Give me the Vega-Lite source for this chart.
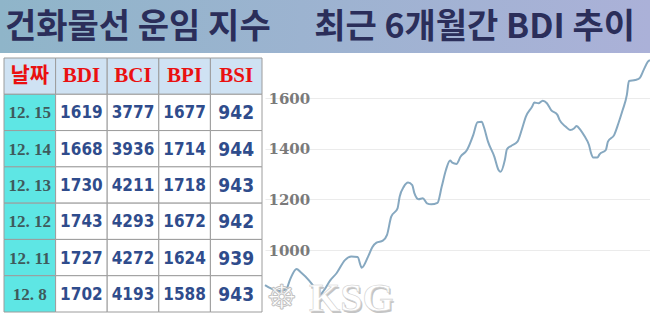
{
  "$schema": "https://vega.github.io/schema/vega-lite/v6.json",
  "padding": 0,
  "background": "white",
  "bounds": "flush",
  "spacing": 2,
  "config": {"view": {"stroke": null}},
  "datasets": {
    "banner": [
      {"part": "left", "label": "건화물선 운임 지수"},
      {"part": "right", "label": "최근 6개월간 BDI 추이"}
    ],
    "header": [
      {"col": "날짜"}, {"col": "BDI"}, {"col": "BCI"}, {"col": "BPI"}, {"col": "BSI"}
    ],
    "values": [
      {"date": "12. 15", "index": "BDI", "value": 1619},
      {"date": "12. 15", "index": "BCI", "value": 3777},
      {"date": "12. 15", "index": "BPI", "value": 1677},
      {"date": "12. 15", "index": "BSI", "value": 942},
      {"date": "12. 14", "index": "BDI", "value": 1668},
      {"date": "12. 14", "index": "BCI", "value": 3936},
      {"date": "12. 14", "index": "BPI", "value": 1714},
      {"date": "12. 14", "index": "BSI", "value": 944},
      {"date": "12. 13", "index": "BDI", "value": 1730},
      {"date": "12. 13", "index": "BCI", "value": 4211},
      {"date": "12. 13", "index": "BPI", "value": 1718},
      {"date": "12. 13", "index": "BSI", "value": 943},
      {"date": "12. 12", "index": "BDI", "value": 1743},
      {"date": "12. 12", "index": "BCI", "value": 4293},
      {"date": "12. 12", "index": "BPI", "value": 1672},
      {"date": "12. 12", "index": "BSI", "value": 942},
      {"date": "12. 11", "index": "BDI", "value": 1727},
      {"date": "12. 11", "index": "BCI", "value": 4272},
      {"date": "12. 11", "index": "BPI", "value": 1624},
      {"date": "12. 11", "index": "BSI", "value": 939},
      {"date": "12. 8", "index": "BDI", "value": 1702},
      {"date": "12. 8", "index": "BCI", "value": 4193},
      {"date": "12. 8", "index": "BPI", "value": 1588},
      {"date": "12. 8", "index": "BSI", "value": 943}
    ],
    "bdi": [
      {"date": "2017-06-12", "bdi": 861},
      {"date": "2017-06-14", "bdi": 851},
      {"date": "2017-06-17", "bdi": 840},
      {"date": "2017-06-19", "bdi": 838},
      {"date": "2017-06-22", "bdi": 844},
      {"date": "2017-06-24", "bdi": 885},
      {"date": "2017-06-27", "bdi": 925},
      {"date": "2017-06-29", "bdi": 912},
      {"date": "2017-07-03", "bdi": 879},
      {"date": "2017-07-06", "bdi": 846},
      {"date": "2017-07-08", "bdi": 822},
      {"date": "2017-07-10", "bdi": 840},
      {"date": "2017-07-13", "bdi": 880},
      {"date": "2017-07-16", "bdi": 908},
      {"date": "2017-07-20", "bdi": 960},
      {"date": "2017-07-23", "bdi": 974},
      {"date": "2017-07-26", "bdi": 972},
      {"date": "2017-07-28", "bdi": 930},
      {"date": "2017-07-31", "bdi": 974},
      {"date": "2017-08-02", "bdi": 1011},
      {"date": "2017-08-04", "bdi": 1029},
      {"date": "2017-08-07", "bdi": 1037},
      {"date": "2017-08-09", "bdi": 1060},
      {"date": "2017-08-11", "bdi": 1132},
      {"date": "2017-08-14", "bdi": 1165},
      {"date": "2017-08-15", "bdi": 1211},
      {"date": "2017-08-17", "bdi": 1251},
      {"date": "2017-08-19", "bdi": 1267},
      {"date": "2017-08-21", "bdi": 1257},
      {"date": "2017-08-22", "bdi": 1225},
      {"date": "2017-08-24", "bdi": 1201},
      {"date": "2017-08-26", "bdi": 1205},
      {"date": "2017-08-28", "bdi": 1185},
      {"date": "2017-08-30", "bdi": 1181},
      {"date": "2017-09-02", "bdi": 1187},
      {"date": "2017-09-04", "bdi": 1251},
      {"date": "2017-09-06", "bdi": 1317},
      {"date": "2017-09-08", "bdi": 1354},
      {"date": "2017-09-09", "bdi": 1346},
      {"date": "2017-09-11", "bdi": 1341},
      {"date": "2017-09-13", "bdi": 1370},
      {"date": "2017-09-16", "bdi": 1396},
      {"date": "2017-09-19", "bdi": 1456},
      {"date": "2017-09-21", "bdi": 1506},
      {"date": "2017-09-23", "bdi": 1508},
      {"date": "2017-09-24", "bdi": 1488},
      {"date": "2017-09-26", "bdi": 1429},
      {"date": "2017-09-29", "bdi": 1370},
      {"date": "2017-10-01", "bdi": 1317},
      {"date": "2017-10-02", "bdi": 1310},
      {"date": "2017-10-04", "bdi": 1356},
      {"date": "2017-10-05", "bdi": 1399},
      {"date": "2017-10-07", "bdi": 1412},
      {"date": "2017-10-10", "bdi": 1429},
      {"date": "2017-10-12", "bdi": 1475},
      {"date": "2017-10-14", "bdi": 1528},
      {"date": "2017-10-17", "bdi": 1568},
      {"date": "2017-10-18", "bdi": 1584},
      {"date": "2017-10-20", "bdi": 1581},
      {"date": "2017-10-22", "bdi": 1591},
      {"date": "2017-10-24", "bdi": 1581},
      {"date": "2017-10-26", "bdi": 1554},
      {"date": "2017-10-29", "bdi": 1535},
      {"date": "2017-10-30", "bdi": 1515},
      {"date": "2017-11-02", "bdi": 1488},
      {"date": "2017-11-04", "bdi": 1475},
      {"date": "2017-11-06", "bdi": 1482},
      {"date": "2017-11-07", "bdi": 1491},
      {"date": "2017-11-09", "bdi": 1475},
      {"date": "2017-11-11", "bdi": 1449},
      {"date": "2017-11-13", "bdi": 1416},
      {"date": "2017-11-14", "bdi": 1383},
      {"date": "2017-11-15", "bdi": 1366},
      {"date": "2017-11-17", "bdi": 1366},
      {"date": "2017-11-18", "bdi": 1379},
      {"date": "2017-11-21", "bdi": 1396},
      {"date": "2017-11-22", "bdi": 1429},
      {"date": "2017-11-25", "bdi": 1456},
      {"date": "2017-11-27", "bdi": 1502},
      {"date": "2017-11-29", "bdi": 1554},
      {"date": "2017-12-01", "bdi": 1614},
      {"date": "2017-12-02", "bdi": 1669},
      {"date": "2017-12-05", "bdi": 1673},
      {"date": "2017-12-07", "bdi": 1680},
      {"date": "2017-12-09", "bdi": 1713},
      {"date": "2017-12-11", "bdi": 1746},
      {"date": "2017-12-12", "bdi": 1752}
    ],
    "watermark": [{"name": "KSG", "logo": "☸"}]
  },
  "vconcat": [
    {
      "width": 650,
      "height": 53,
      "view": {
        "fill": {
          "gradient": "linear", "x1": 0, "y1": 0, "x2": 1, "y2": 0,
          "stops": [{"offset": 0, "color": "#8fb5c9"}, {"offset": 1, "color": "#abb1d8"}]
        },
        "stroke": null
      },
      "data": {"name": "banner"},
      "layer": [
        {
          "transform": [{"filter": "datum.part === 'left'"}],
          "mark": {"type": "text", "align": "left", "baseline": "middle", "dx": 5, "dy": 1, "font": "Noto Sans CJK KR", "fontWeight": "bold", "fontSize": 34, "color": "#2b2e5a"},
          "encoding": {
            "x": {"field": "part", "type": "nominal", "bandPosition": 0, "scale": {"type": "band", "domain": ["left", "right"], "paddingInner": 0, "paddingOuter": 0}, "axis": null},
            "text": {"field": "label"}
          }
        },
        {
          "transform": [{"filter": "datum.part === 'right'"}],
          "mark": {"type": "text", "align": "right", "baseline": "middle", "dx": -15, "dy": 1, "font": "Noto Sans CJK KR", "fontWeight": "bold", "fontSize": 34, "color": "#2b2e5a"},
          "encoding": {
            "x": {"field": "part", "type": "nominal", "bandPosition": 1, "axis": null},
            "text": {"field": "label"}
          }
        }
      ]
    },
    {
      "bounds": "flush",
      "spacing": 3,
      "hconcat": [
        {
          "width": 262,
          "height": 265,
          "layer": [
            {
              "data": {"name": "header"},
              "mark": {"type": "rect", "fill": "#cfe2f3", "stroke": "#9c9c9c", "strokeWidth": 1},
              "encoding": {
                "x": {"field": "col", "type": "nominal", "scale": {"type": "band", "domain": ["날짜", "BDI", "BCI", "BPI", "BSI"], "range": [4, 262], "paddingInner": 0, "paddingOuter": 0}, "axis": null},
                "y": {"datum": "head", "type": "nominal", "scale": {"type": "band", "domain": ["head", "12. 15", "12. 14", "12. 13", "12. 12", "12. 11", "12. 8"], "range": [3, 257], "paddingInner": 0, "paddingOuter": 0}, "axis": null}
              }
            },
            {
              "data": {"name": "values"},
              "transform": [{"filter": "datum.index === 'BDI'"}],
              "mark": {"type": "rect", "fill": "#5ee6e4", "stroke": "#9c9c9c", "strokeWidth": 1},
              "encoding": {
                "x": {"datum": "날짜", "type": "nominal"},
                "y": {"field": "date", "type": "nominal"}
              }
            },
            {
              "data": {"name": "values"},
              "mark": {"type": "rect", "fill": "#ffffff", "stroke": "#9c9c9c", "strokeWidth": 1},
              "encoding": {
                "x": {"field": "index", "type": "nominal"},
                "y": {"field": "date", "type": "nominal"}
              }
            },
            {
              "data": {"name": "header"},
              "mark": {"type": "text", "font": "Liberation Serif, Noto Sans CJK KR", "fontWeight": "bold", "fontSize": 21, "color": "#ea1010", "baseline": "middle"},
              "encoding": {
                "x": {"field": "col", "type": "nominal"},
                "y": {"datum": "head", "type": "nominal"},
                "text": {"field": "col"}
              }
            },
            {
              "data": {"name": "values"},
              "transform": [{"filter": "datum.index === 'BDI'"}],
              "mark": {"type": "text", "font": "Liberation Serif", "fontWeight": "bold", "fontSize": 17, "color": "#3e5a5c", "baseline": "middle", "dy": 1},
              "encoding": {
                "x": {"datum": "날짜", "type": "nominal"},
                "y": {"field": "date", "type": "nominal"},
                "text": {"field": "date"}
              }
            },
            {
              "data": {"name": "values"},
              "mark": {"type": "text", "font": "DejaVu Sans Condensed, DejaVu Sans", "fontWeight": "bold", "baseline": "middle", "color": "#2f4c8c", "dy": 1},
              "encoding": {
                "x": {"field": "index", "type": "nominal"},
                "y": {"field": "date", "type": "nominal"},
                "text": {"field": "value"},
                "size": {"condition": {"test": "datum.index === 'BSI'", "value": 19}, "value": 17}
              }
            }
          ]
        },
        {
          "width": 385,
          "height": 265,
          "layer": [
            {
              "data": {"name": "bdi"},
              "mark": {"type": "line", "interpolate": "monotone", "color": "#86a8c0", "strokeWidth": 2},
              "encoding": {
                "x": {"field": "date", "type": "temporal", "scale": {"domain": [{"year": 2017, "month": 6, "date": 12}, {"year": 2017, "month": 12, "date": 12}], "nice": false}, "axis": null},
                "y": {
                  "field": "bdi", "type": "quantitative",
                  "scale": {"domain": [723, 1772], "nice": false, "zero": false},
                  "axis": {
                    "values": [1000, 1200, 1400, 1600], "format": "d", "title": null, "domain": false, "ticks": false, "tickSize": 0,
                    "labelAlign": "left", "labelPadding": -3, "labelBaseline": "middle",
                    "labelFont": "DejaVu Serif", "labelFontWeight": "bold", "labelFontSize": 15, "labelColor": "#7a7a7a",
                    "grid": true, "gridColor": "#ebebeb", "gridWidth": 1.2
                  }
                }
              }
            },
            {
              "data": {"name": "watermark"},
              "mark": {"type": "text", "font": "DejaVu Sans", "fontSize": 34, "fill": "#ffffff", "opacity": 0.85, "stroke": "#b8b8b8", "strokeWidth": 1, "baseline": "middle"},
              "encoding": {
                "x": {"datum": {"year": 2017, "month": 6, "date": 20}, "type": "temporal"},
                "y": {"datum": 805, "type": "quantitative"},
                "text": {"field": "logo"}
              }
            },
            {
              "data": {"name": "watermark"},
              "mark": {"type": "text", "font": "Liberation Serif", "fontWeight": "bold", "fontSize": 40, "fill": "#c4c4c4", "baseline": "middle", "dx": 1.5, "dy": 1.5},
              "encoding": {
                "x": {"datum": {"year": 2017, "month": 7, "date": 23}, "type": "temporal"},
                "y": {"datum": 805, "type": "quantitative"},
                "text": {"field": "name"}
              }
            },
            {
              "data": {"name": "watermark"},
              "mark": {"type": "text", "font": "Liberation Serif", "fontWeight": "bold", "fontSize": 40, "fill": "#ffffff", "stroke": "#d0d0d0", "strokeWidth": 0.6, "baseline": "middle"},
              "encoding": {
                "x": {"datum": {"year": 2017, "month": 7, "date": 23}, "type": "temporal"},
                "y": {"datum": 805, "type": "quantitative"},
                "text": {"field": "name"}
              }
            }
          ]
        }
      ]
    }
  ]
}
